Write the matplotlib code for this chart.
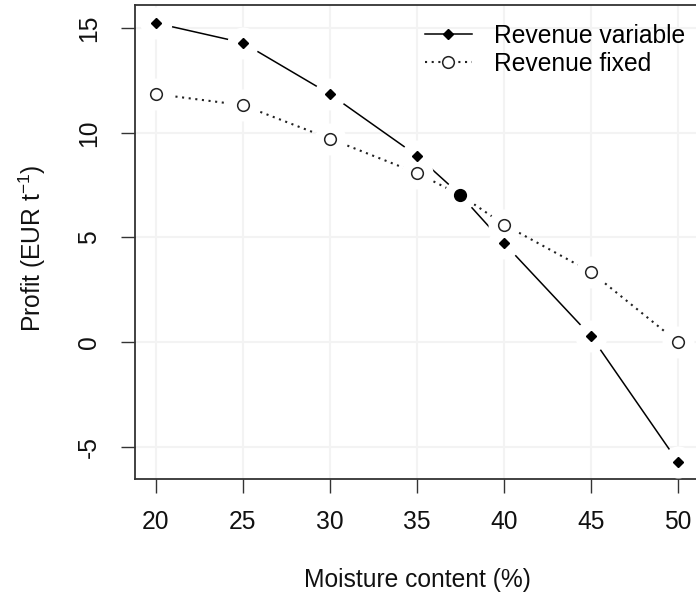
import matplotlib
matplotlib.use("Agg")
import matplotlib.pyplot as plt
from matplotlib.lines import Line2D

plt.rcParams['font.family'] = ['Liberation Sans', 'DejaVu Sans']
plt.rcParams['mathtext.fontset'] = 'custom'
plt.rcParams['mathtext.rm'] = 'Liberation Sans'
plt.rcParams['mathtext.default'] = 'regular'

# Data
moisture = [20, 25, 30, 35, 37.5, 40, 45, 50]
revenue_variable = [15.24, 14.30, 11.85, 8.91, 7.03, 4.73, 0.29, -5.72]
revenue_fixed = [11.85, 11.32, 9.72, 8.08, 7.03, 5.62, 3.35, 0.0]
break_even_x = [37.5]
break_even_y = [7.03]
xticks = [20, 25, 30, 35, 40, 45, 50]
yticks = [-5, 0, 5, 10, 15]

FS = 17.7
W, H = 696, 600
fig = plt.figure(figsize=(W / 100, H / 100), dpi=100)
left, right, top, bottom = 134.7, 699, 5, 479
ax = fig.add_axes([left / W, 1 - bottom / H, (right - left) / W, (bottom - top) / H])

ax.set_xlim(18.8, 51.2)
ax.set_ylim(-6.53, 16.1)

# faint grid
for xv in xticks:
    ax.axvline(xv, color='#f3f3f3', lw=1.5, zorder=0)
for yv in yticks:
    ax.axhline(yv, color='#f3f3f3', lw=1.5, zorder=0)

ax.plot(moisture, revenue_variable, color='black', lw=1.1, zorder=2)
ax.plot(moisture, revenue_fixed, color='#222222', lw=1.5, linestyle=(0, (1, 2.2)), zorder=2)

# gaps around points (R type = "b")
ax.plot(moisture, revenue_variable, linestyle='none', marker='o', ms=23,
        mfc='white', mec='none', zorder=3)
ax.plot(moisture, revenue_fixed, linestyle='none', marker='o', ms=23,
        mfc='white', mec='none', zorder=3)

idx = [i for i, m in enumerate(moisture) if m not in break_even_x]
ax.plot(moisture, revenue_variable, linestyle='none', marker='D', ms=4.8,
        mfc='black', mec='black', mew=1, markevery=idx, zorder=5)
ax.plot(moisture, revenue_fixed, linestyle='none', marker='o', ms=8.4,
        mfc='white', mec='#222222', mew=1.1, markevery=idx, zorder=5)
ax.plot(break_even_x, break_even_y, linestyle='none', marker='o', ms=8.5,
        mfc='black', mec='black', zorder=6)

ax.set_xticks(xticks)
ax.set_yticks(yticks)
ax.set_xticklabels([str(v) for v in xticks])
ax.set_yticklabels([str(v) for v in yticks], rotation=90, va='center')
ax.tick_params(axis='both', direction='out', length=10, width=1.0, color='#333333',
               labelsize=FS, labelcolor='#111111')
ax.tick_params(axis='x', pad=12)
ax.tick_params(axis='y', pad=14)
for s in ax.spines.values():
    s.set_linewidth(1.3)
    s.set_color('#333333')

fig.text(417 / W, 1 - 580 / H, 'Moisture content (%)', ha='center', va='center',
         fontsize=FS, color='#111111')
fig.text(32 / W, 1 - 248 / H, 'Profit (EUR t$^{-1}$)', ha='center', va='center',
         rotation=90, fontsize=FS, color='#111111')

h1 = Line2D([], [], color='black', lw=1.1, marker='D', ms=4.8, mfc='black')
h2 = Line2D([], [], color='#222222', lw=1.5, linestyle=(0, (1, 2.2)), marker='o',
            ms=8.4, mfc='white', mec='#222222', mew=1.1)
leg = fig.legend([h1, h2], ['Revenue variable', 'Revenue fixed'], loc='upper left',
                 bbox_to_anchor=(425 / W, 1 - 24 / H), frameon=False, fontsize=FS,
                 borderpad=0, borderaxespad=0, handlelength=1.9, handletextpad=0.9,
                 labelspacing=0.15)

fig.savefig('out.png', dpi=100)
